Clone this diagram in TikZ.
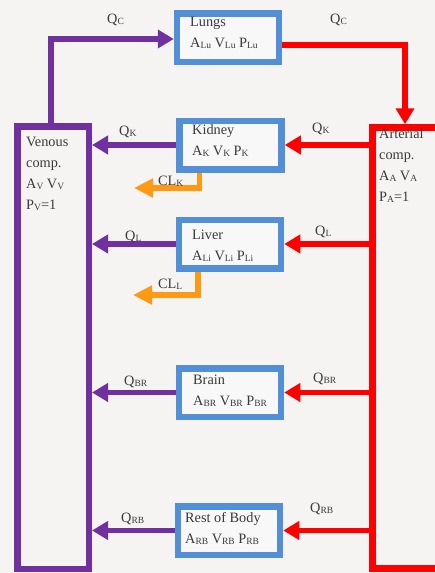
\documentclass[tikz,border=0pt]{standalone}
\usepackage{fontspec}
\setmainfont{Liberation Serif}
\usetikzlibrary{arrows.meta}
\definecolor{bgC}{RGB}{246,244,243}
\definecolor{purpC}{RGB}{112,48,160}
\definecolor{redC}{RGB}{255,0,0}
\definecolor{blueC}{RGB}{83,143,214}
\definecolor{orangeC}{RGB}{255,153,20}
\definecolor{inkC}{RGB}{58,58,58}
\definecolor{boxC}{RGB}{249,248,248}
\newcommand{\lsub}[1]{\raisebox{-1pt}{\fontsize{9.5}{9.5}\selectfont #1}}
\begin{document}
\begin{tikzpicture}[x=1pt,y=-1pt,
  every node/.style={font=\fontsize{14.3}{21}\selectfont, text=inkC, inner sep=0pt},
  organ/.style={draw=blueC, line width=6.5pt, fill=boxC, minimum width=102pt, minimum height=48.5pt},
  comp/.style={line width=6.5pt, fill=bgC},
  txt/.style={anchor=base west, align=left},
  flow/.style={line width=5.5pt},
  tip/.style={-{Triangle[length=16pt,width=18pt]}},
  vein/.style={flow, draw=purpC, tip},
  artery/.style={flow, draw=redC, tip},
  clear/.style={flow, draw=orangeC, -{Triangle[length=19pt,width=18pt]}}
]
\fill[bgC] (0,0) rectangle (435,573);
\useasboundingbox (0,0) rectangle (435,573);
\clip (0,0) rectangle (435,573);

% compartments
\node[comp, draw=purpC, minimum width=71.5pt, minimum height=442.5pt] (ven) at (53,347.5) {};
\node[comp, draw=redC, minimum width=87pt, minimum height=441pt] (art) at (416,348) {};
% multi-line texts: the base anchor sits on the last line
\node[txt] (venT) at (26,209) {Venous\\comp.\\A\lsub{V} V\lsub{V}\\P\lsub{V}=1};
\node[txt] (artT) at (379,201) {Arterial\\comp.\\A\lsub{A} V\lsub{A}\\P\lsub{A}=1};

% organs
\node[organ] (lungs) at (228,37.5) {};
\node[organ] (kid) at (230.5,145) {};
\node[organ] (liv) at (230,244) {};
\node[organ] (brain) at (230,392.5) {};
\node[organ] (rest) at (229,530.5) {};

\node[txt] (lungsT) at (190,47) {Lungs\\A\lsub{Lu} V\lsub{Lu} P\lsub{Lu}};
\node[txt] (kidT) at (192,155) {Kidney\\A\lsub{K} V\lsub{K} P\lsub{K}};
\node[txt] (livT) at (192,260) {Liver\\A\lsub{Li} V\lsub{Li} P\lsub{Li}};
\node[txt] (brainT) at (193,405) {Brain\\A\lsub{BR} V\lsub{BR} P\lsub{BR}};
\node[txt] (restT) at (185,543) {Rest of Body\\A\lsub{RB} V\lsub{RB} P\lsub{RB}};

% pulmonary loop
\draw[vein] ([xshift=-2pt]ven.north) |- ([yshift=-1.5pt]lungs.west);
\draw[artery] ([yshift=-7.5pt]lungs.east) -| ([xshift=-11pt]art.north);

% arterial supply and venous return
\foreach \o in {kid,liv,brain,rest}{
  \draw[artery] (art.west |- \o.east) -- (\o.east);
  \draw[vein] (\o.west) -- (ven.east |- \o.west);
}

% clearance
\coordinate (clkEnd) at (134,188);
\coordinate (cllEnd) at (133,295);
\draw[clear] ([xshift=-31pt]kid.south) |- (clkEnd);
\draw[clear] ([xshift=-32pt]liv.south) |- (cllEnd);

% flow labels
\node[txt] (qc1) at (107,23) {Q\lsub{C}};
\node[txt] (qc2) at (330,23) {Q\lsub{C}};
\node[txt] (qk1) at (119,135) {Q\lsub{K}};
\node[txt] (qk2) at (312,132) {Q\lsub{K}};
\node[txt] (ql1) at (125,240) {Q\lsub{L}};
\node[txt] (ql2) at (315,235) {Q\lsub{L}};
\node[txt] (qbr1) at (124,385) {Q\lsub{BR}};
\node[txt] (qbr2) at (313,382) {Q\lsub{BR}};
\node[txt] (qrb1) at (121,522) {Q\lsub{RB}};
\node[txt] (qrb2) at (310,512) {Q\lsub{RB}};
\node[txt] (clk) at (158,185) {CL\lsub{K}};
\node[txt] (cll) at (158,288) {CL\lsub{L}};
\end{tikzpicture}
\end{document}
